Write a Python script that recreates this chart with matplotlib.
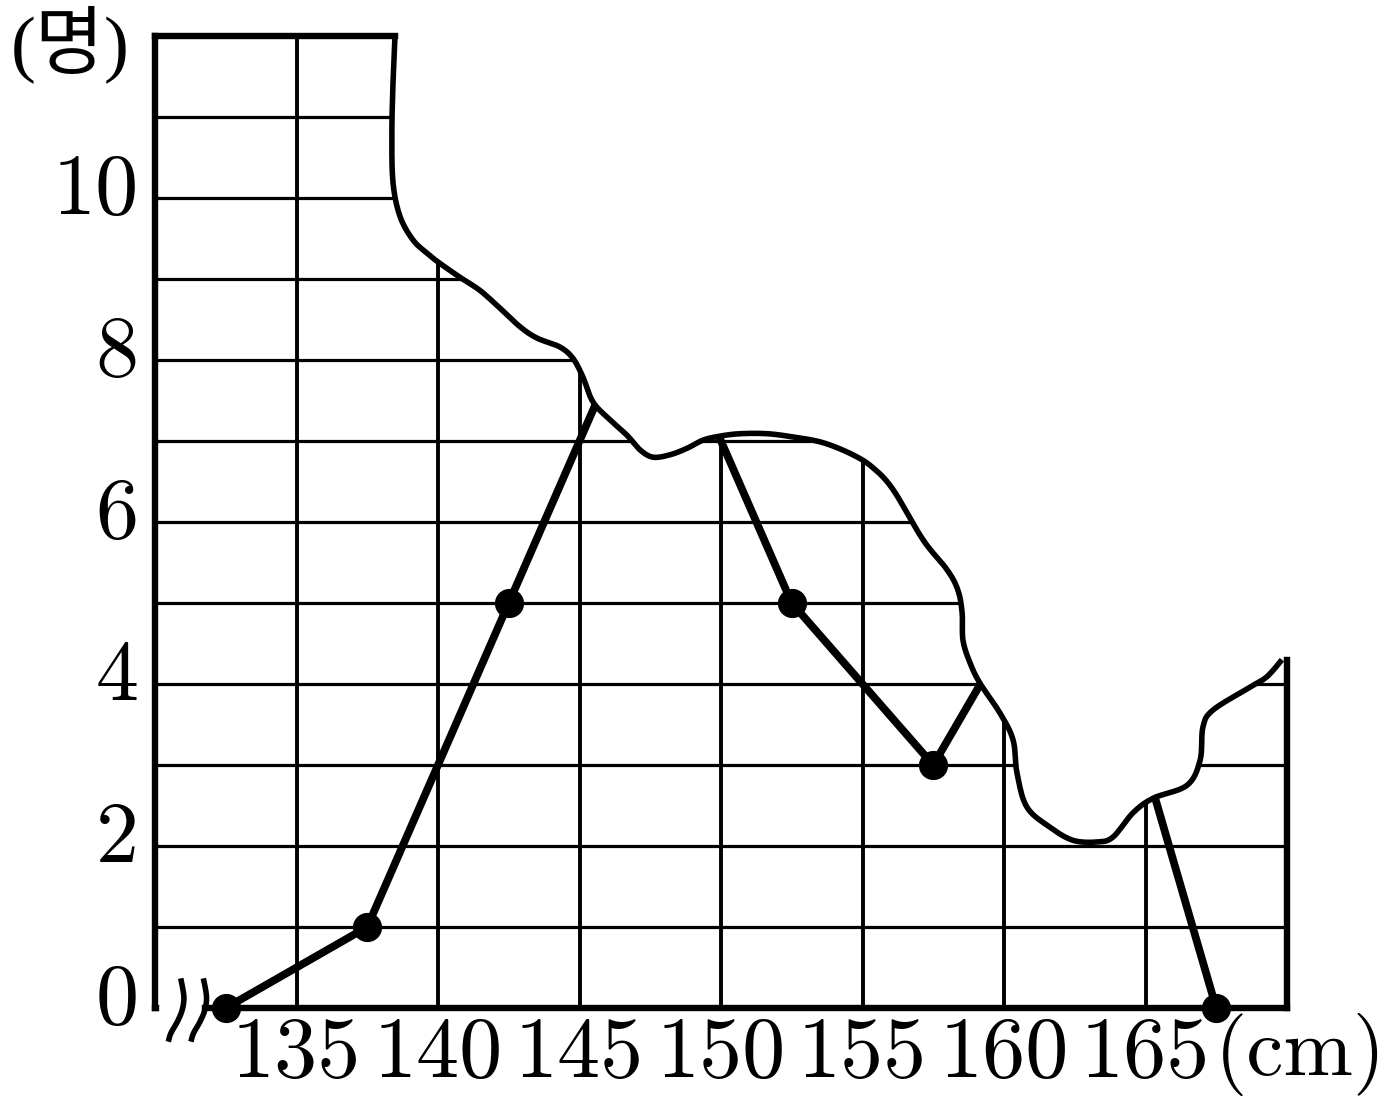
import numpy as np
import matplotlib
matplotlib.use("Agg")
import matplotlib.pyplot as plt
from matplotlib.transforms import ScaledTranslation

# ---- data ----
class_marks = [132.5, 137.5, 142.5, 147.5, 152.5, 157.5, 162.5, 167.5]
frequencies = [0, 1, 5, 9, 5, 3, 6, 0]
x_ticks = [135, 140, 145, 150, 155, 160, 165]
y_ticks = [0, 2, 4, 6, 8, 10]
x_grid = [135, 140, 145, 150, 155, 160, 165]
y_grid = [1, 2, 3, 4, 5, 6, 7, 8, 9, 10, 11]
x_label = "(cm)"
y_label = "(명)"

# torn-edge outline (decoration)
tear_x = [138.48, 138.41, 138.37, 138.41, 138.66, 139.12, 139.61, 140.0, 140.78,
          141.48, 142.19, 142.90, 143.50, 144.31, 144.77, 145.12, 145.48, 146.08,
          146.68, 147.14, 147.60, 148.20, 148.80, 149.36, 149.96, 150.67, 151.63,
          152.54, 153.60, 154.66, 155.37, 156.08, 157.14, 157.99, 158.37, 158.52,
          158.55, 158.80, 159.15, 159.86, 160.32, 160.46, 160.81, 161.63, 162.44,
          163.29, 163.85, 164.56, 165.27, 166.47, 166.93, 167.03, 167.39, 168.69,
          169.29, 169.82]
tear_y = [12.0, 11.42, 10.80, 10.19, 9.77, 9.48, 9.32, 9.21, 9.02,
          8.86, 8.64, 8.41, 8.27, 8.16, 8.02, 7.79, 7.48, 7.26,
          7.07, 6.89, 6.80, 6.83, 6.91, 7.01, 7.06, 7.09, 7.09,
          7.05, 6.98, 6.83, 6.67, 6.40, 5.78, 5.41, 5.16, 4.88,
          4.54, 4.26, 4.01, 3.64, 3.31, 2.90, 2.48, 2.23, 2.07,
          2.05, 2.11, 2.41, 2.59, 2.75, 3.06, 3.47, 3.68, 3.96,
          4.09, 4.30]

# axis-break strokes (decoration)
brk_dx = [0.91, 1.02, 0.96, 0.79, 0.56, 0.47]
brk_y = [0.366, 0.140, -0.025, -0.169, -0.312, -0.416]
brk_shift = 0.80

X0, X1, Y0, Y1 = 130, 170, 0, 12


def catmull(xs, ys, n=10):
    p = np.column_stack([xs, ys])
    p = np.vstack([p[0], p, p[-1]])
    out = []
    for i in range(1, len(p) - 2):
        p0, p1, p2, p3 = p[i - 1], p[i], p[i + 1], p[i + 2]
        for t in np.linspace(0, 1, n, endpoint=False):
            t2, t3 = t * t, t * t * t
            pt = 0.5 * ((2 * p1) + (-p0 + p2) * t + (2 * p0 - 5 * p1 + 4 * p2 - p3) * t2
                        + (-p0 + 3 * p1 - 3 * p2 + p3) * t3)
            out.append(pt)
    out.append(p[-2])
    out = np.array(out)
    return out[:, 0], out[:, 1]


fig = plt.figure(figsize=(13.87, 11.12), dpi=100)
ax = fig.add_axes([155 / 1387, 104 / 1112, 1132 / 1387, 972 / 1112])
ax.set_xlim(X0, X1)
ax.set_ylim(Y0, Y1)
for s in ax.spines.values():
    s.set_visible(False)

# grid
ax.hlines(y_grid, X0, X1, colors="black", linewidth=2.3, zorder=1)
ax.vlines(x_grid, Y0, Y1, colors="black", linewidth=2.8, zorder=1)

# frequency polygon (hidden part is covered by the torn region)
ax.plot(class_marks, frequencies, color="black", linewidth=5.6, zorder=2,
        solid_capstyle="round")
ax.plot(class_marks, frequencies, "o", color="black", markersize=20,
        zorder=3, clip_on=False)

# torn region
tx, ty = catmull(tear_x, tear_y)
fx = np.concatenate([tx, [X1 + 1, X1 + 1, tx[0]]])
fy = np.concatenate([ty, [ty[-1], Y1 + 1, Y1 + 1]])
ax.fill(fx, fy, color="white", zorder=4, linewidth=0)
ax.plot(tx, ty, color="black", linewidth=4.0, zorder=5, solid_capstyle="butt")

# frame
fr = dict(color="black", linewidth=4.6, zorder=6, clip_on=False,
          solid_capstyle="projecting")
ax.plot([X0, X0], [Y0, Y1], **fr)
ax.plot([X0, tear_x[0]], [Y1, Y1], **fr)
ax.plot([X1, X1], [Y0, tear_y[-1]], **fr)
ax.plot([X0, X0 + 0.05], [Y0, Y0], **fr)
ax.plot([X0 + brk_dx[1] + brk_shift - 0.05, X1], [Y0, Y0], **fr)

# break strokes
for k in range(2):
    bx, by = catmull([X0 + d + k * brk_shift for d in brk_dx], brk_y)
    ax.plot(bx, by, color="black", linewidth=4.0, zorder=7, clip_on=False,
            solid_capstyle="butt")

# ticks and labels
tfont = dict(family="cmr10", size=62)
ax.set_xticks(x_ticks)
ax.set_xticklabels([str(v) for v in x_ticks], fontdict=tfont)
ax.set_yticks(y_ticks)
ax.set_yticklabels([str(v) for v in y_ticks], fontdict=tfont)
ax.tick_params(axis="both", length=0)
ax.tick_params(axis="x", pad=6)
ax.tick_params(axis="y", pad=12)
off = ScaledTranslation(0, 14 / 100, fig.dpi_scale_trans)
for lab in ax.get_yticklabels():
    lab.set_transform(lab.get_transform() + off)

ax.text((1215 - 155) / 1132, -0.048, x_label, transform=ax.transAxes,
        ha="left", va="center", fontsize=60, family="cmr10")
ax.text(-0.075, 0.991, y_label, transform=ax.transAxes, ha="center", va="center",
        fontsize=54, family=["Liberation Serif", "Noto Sans CJK KR"])

fig.savefig("out.png", dpi=100)
